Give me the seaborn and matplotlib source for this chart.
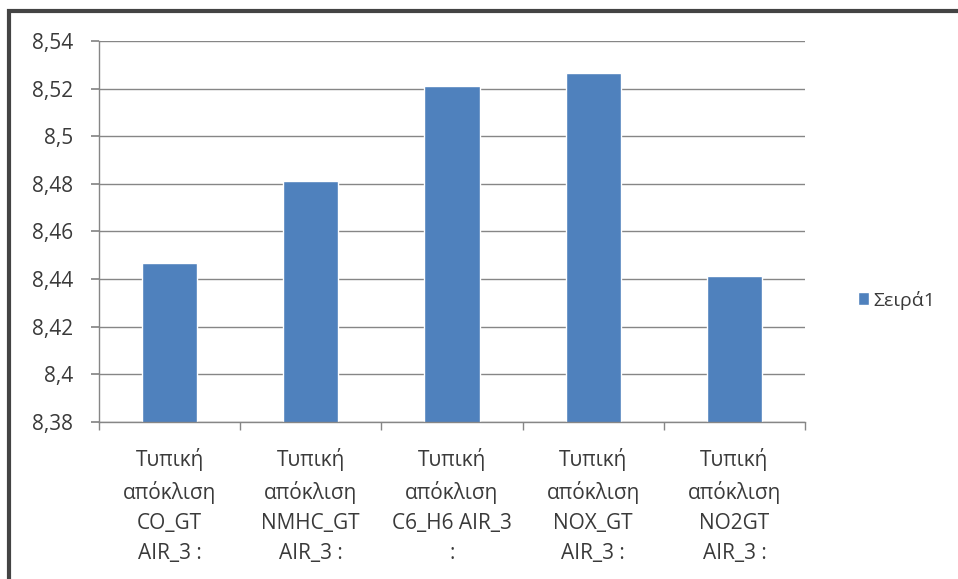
import matplotlib
matplotlib.use("Agg")
import matplotlib.pyplot as plt
import seaborn as sns
import pandas as pd
from matplotlib.patches import Rectangle
from matplotlib.ticker import FixedLocator, FuncFormatter

categories = [
    "Τυπική\nαπόκλιση\nCO_GT\nAIR_3 :",
    "Τυπική\nαπόκλιση\nNMHC_GT\nAIR_3 :",
    "Τυπική\nαπόκλιση\nC6_H6 AIR_3\n:",
    "Τυπική\nαπόκλιση\nNOX_GT\nAIR_3 :",
    "Τυπική\nαπόκλιση\nNO2GT\nAIR_3 :",
]
values = [8.4468, 8.4812, 8.5211, 8.5266, 8.4413]
series_name = "Σειρά1"
y_ticks = [8.38, 8.40, 8.42, 8.44, 8.46, 8.48, 8.50, 8.52, 8.54]

sns.set_theme(style="white")
plt.rcParams['font.family'] = ['Open Sans', 'DejaVu Sans']

df = pd.DataFrame({"cat": categories, "val": values, "series": series_name})

fig = plt.figure(figsize=(9.58, 5.79), dpi=100)
ax = fig.add_axes([99/958, 1 - 422/579, (805 - 99)/958, (422 - 41)/579])

sns.barplot(data=df, x="cat", y="val", hue="series", palette=["#4F81BD"],
            width=0.39, ax=ax, legend=False, saturation=1)

ax.set_ylim(8.38, 8.54)
ax.set_xlim(-0.5, 4.5)
ax.yaxis.set_major_locator(FixedLocator(y_ticks))
ax.yaxis.set_major_formatter(FuncFormatter(lambda v, p: f"{v:.2f}".rstrip("0").rstrip(".").replace(".", ",")))
ax.grid(axis="y", color="#868686", linewidth=1)
ax.set_axisbelow(True)
for s in ["top", "right"]:
    ax.spines[s].set_visible(False)
for s in ["left", "bottom"]:
    ax.spines[s].set_color("#868686")
    ax.spines[s].set_linewidth(1)

ax.set_xlabel("")
ax.set_ylabel("")
ax.tick_params(axis="y", which="major", length=6, color="#868686", direction="out",
               left=True, labelsize=15, labelcolor="#3a3a3a", pad=12.5)
ax.tick_params(axis="x", which="major", length=0, labelsize=15, labelcolor="#3a3a3a", pad=19)
ax.set_xticks(range(len(categories)))
ax.set_xticklabels(categories, linespacing=1.55)
ax.set_xticks([i - 0.5 for i in range(len(categories) + 1)], minor=True)
ax.tick_params(axis="x", which="minor", length=6, color="#868686", direction="out", bottom=True)

handle = Rectangle((0, 0), 1, 1, facecolor="#4F81BD")
fig.legend([handle], [series_name], loc="center left", bbox_to_anchor=(840/958, 1 - 300/579),
           frameon=False, fontsize=14, handlelength=0.6, handleheight=0.6, handletextpad=0.2,
           labelcolor="#3a3a3a")

fig.patches.append(Rectangle((9/958, -0.05), 1.0, 1.05 - 11/579, transform=fig.transFigure,
                             fill=False, edgecolor="#444444", linewidth=3))

fig.savefig("out.png", dpi=100)
